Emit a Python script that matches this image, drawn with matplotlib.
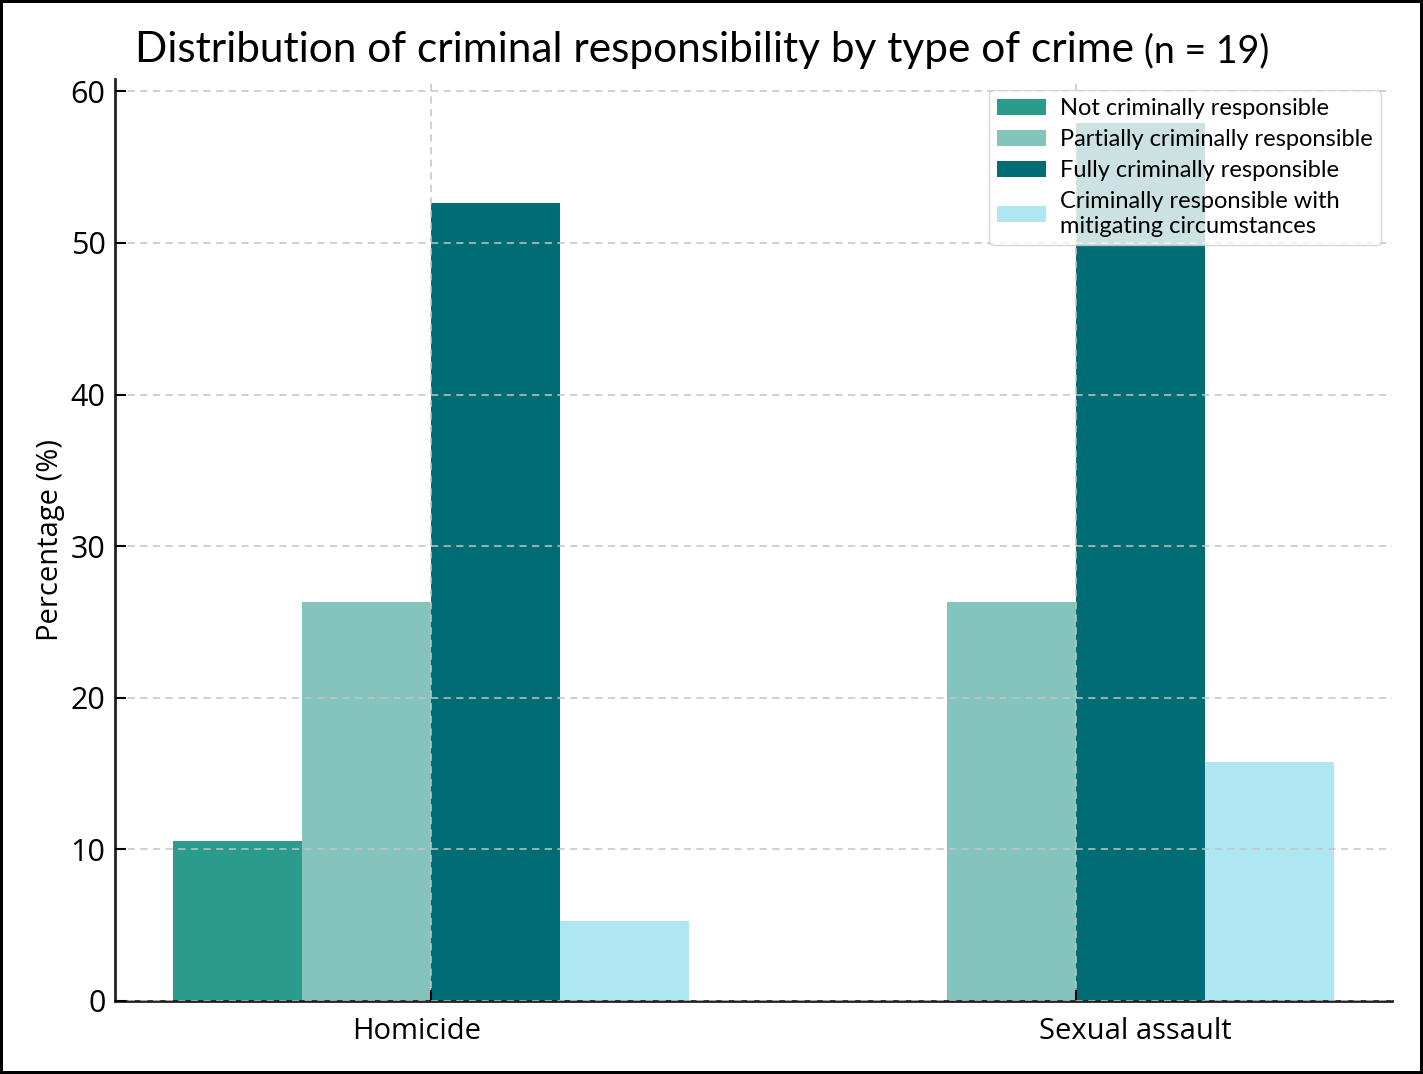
import matplotlib.pyplot as plt
import numpy as np

# data (percent of n = 19)
crimes = ["Homicide", "Sexual assault"]
categories = ["Not criminally responsible",
              "Partially criminally responsible",
              "Fully criminally responsible",
              "Criminally responsible with\nmitigating circumstances"]
not_resp = [10.53, 0.0]
partial_resp = [26.32, 26.32]
full_resp = [52.63, 57.89]
mitigated_resp = [5.26, 15.79]
colors = ["#2a9b8c", "#85c4bd", "#006d74", "#aee7f2"]

series = [not_resp, partial_resp, full_resp, mitigated_resp]

fig = plt.figure(figsize=(14.23, 10.74), dpi=100, edgecolor="black", linewidth=4)
ax = fig.add_axes([0.081, 0.068, 0.897, 0.858])

x = np.arange(len(crimes))
width = 0.2
for j, (vals, lab, col) in enumerate(zip(series, categories, colors)):
    ax.bar(x + (j - 1.5) * width, vals, width, label=lab, color=col, zorder=1)

ax.grid(True, linestyle=(0, (4, 3)), color="#c4c4c4", linewidth=1.3, alpha=0.85, zorder=2)
ax.set_axisbelow(False)

ax.set_xticks(x)
ax.set_xticklabels([])
# category labels sit a little off the tick centres in the original
label_shift = [-0.022, 0.093]
for xi, name, dx in zip(x, crimes, label_shift):
    ax.annotate(name, xy=(xi + dx, 0), xycoords=("data", "axes fraction"),
                xytext=(0, -22), textcoords="offset points", ha="center", va="center",
                fontfamily="Open Sans", fontsize=21)

ax.set_yticks([0, 10, 20, 30, 40, 50, 60])
for lbl in ax.get_yticklabels():
    lbl.set_fontfamily("Open Sans")
    lbl.set_fontsize(22)
ax.tick_params(axis="both", direction="in", length=8, width=1.5, color="black")
ax.tick_params(axis="y", pad=7)

ax.set_ylabel("Percentage (%)", fontfamily="Open Sans", fontsize=21, labelpad=4)

for s in ["top", "right"]:
    ax.spines[s].set_visible(False)
for s in ["left", "bottom"]:
    ax.spines[s].set_linewidth(2)
    ax.spines[s].set_color("#222222")

leg = ax.legend(loc="upper right", prop={"family": "Lato", "size": 17},
                framealpha=0.8, edgecolor="#cccccc", fancybox=True,
                borderaxespad=0.45, handlelength=2.05, handletextpad=0.6,
                labelspacing=0.42, borderpad=0.35)
leg.set_zorder(5)

fig.text(0.797, 0.942, "Distribution of criminal responsibility by type of crime",
         ha="right", va="baseline", fontfamily="Lato", fontsize=30.5)
fig.text(0.804, 0.942, "(n = 19)", ha="left", va="baseline", fontfamily="Lato", fontsize=27)

fig.savefig("out.png", dpi=100, edgecolor=fig.get_edgecolor())
